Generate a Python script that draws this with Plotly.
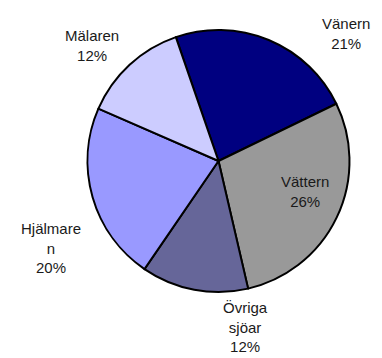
import plotly.graph_objects as go

# Share of each lake (percent)
lakes = ["Vänern", "Vättern", "Övriga<br>sjöar", "Hjälmare<br>n", "Mälaren"]
shares = [21, 26, 12, 20, 12]
colors = ["#000080", "#999999", "#666699", "#9999FF", "#CCCCFF"]

# Label anchor points in pixels (x, y from top)
label_pos = [(346, 34), (305, 191), (246, 327), (51, 248), (92, 45)]

W, H = 382, 358
cx, cy, r = 218.5, 161, 131

fig = go.Figure(
    go.Pie(
        labels=lakes,
        values=shares,
        sort=False,
        direction="clockwise",
        rotation=-19,
        marker=dict(colors=colors, line=dict(color="#000000", width=2)),
        textinfo="none",
        hoverinfo="label+value",
        showlegend=False,
        domain=dict(
            x=[(cx - r) / W, (cx + r) / W],
            y=[(H - cy - r) / H, (H - cy + r) / H],
        ),
    )
)

for name, val, (px, py) in zip(lakes, shares, label_pos):
    fig.add_annotation(
        x=px / W,
        y=1 - py / H,
        xref="paper",
        yref="paper",
        text=f"{name}<br>{val}%",
        showarrow=False,
        xanchor="center",
        yanchor="middle",
        align="center",
        font=dict(family="Liberation Sans, Arial, sans-serif", size=15, color="#1a1a1a"),
    )

fig.update_layout(
    width=W,
    height=H,
    margin=dict(l=0, r=0, t=0, b=0),
    paper_bgcolor="white",
    plot_bgcolor="white",
)

fig.write_html("out.html")
